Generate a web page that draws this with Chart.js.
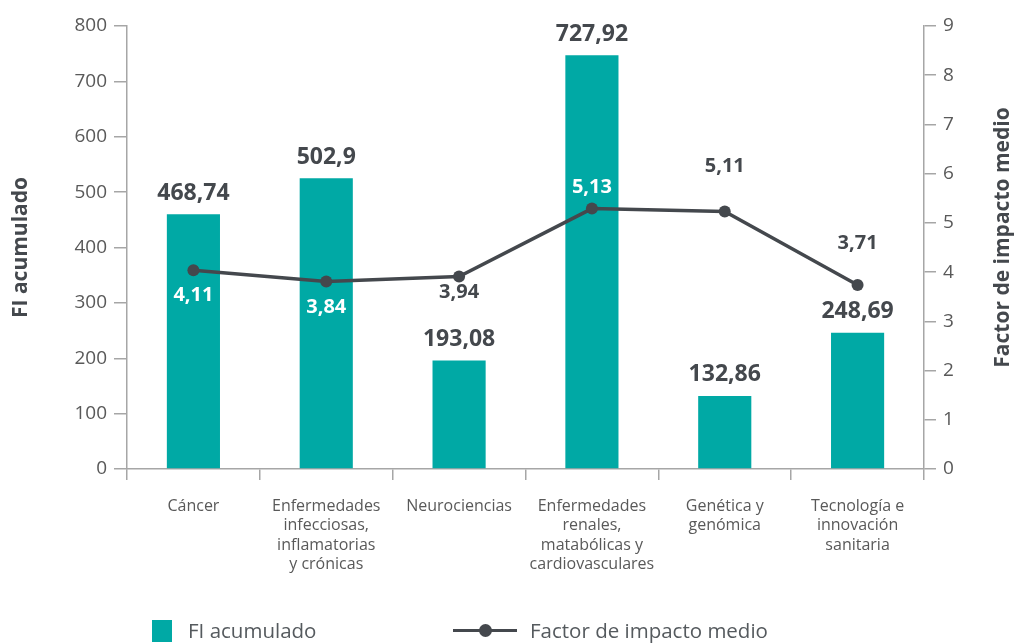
<!DOCTYPE html>
<html>
<head>
<meta charset="utf-8">
<script src="https://cdn.jsdelivr.net/npm/chart.js@4.4.1/dist/chart.umd.min.js"></script>
<style>
  html, body { margin: 0; padding: 0; background: #fff; }
  #wrap { position: relative; width: 1019px; height: 644px; font-family: "Open Sans", sans-serif; }
  .lg { position: absolute; color: #555a5e; font-size: 20.5px; line-height: 22px; white-space: nowrap; }
  .lg-box { position: absolute; left: 152px; top: 620px; width: 20px; height: 22px; background: #00a9a5; }
  .lg-line { position: absolute; left: 453px; top: 629px; width: 64px; height: 3px; background: #44484d; }
  .lg-dot { position: absolute; left: 479px; top: 624px; width: 13px; height: 13px; border-radius: 50%; background: #44484d; }
</style>
</head>
<body>
<div id="wrap">
  <canvas id="chart" width="1019" height="644"></canvas>
  <div class="lg-box"></div>
  <div class="lg" style="left:188px; top:619px;">FI acumulado</div>
  <div class="lg-line"></div>
  <div class="lg-dot"></div>
  <div class="lg" style="left:530px; top:619px;">Factor de impacto medio</div>
</div>
<script>
const categories = [
  "Cáncer",
  ["Enfermedades", "infecciosas,", "inflamatorias", "y crónicas"],
  "Neurociencias",
  ["Enfermedades", "renales,", "matabólicas y", "cardiovasculares"],
  ["Genética y", "genómica"],
  ["Tecnología e", "innovación", "sanitaria"],
];

// bar heights as drawn in the picture, and the numbers printed over them
const fiValues = [460, 525, 196, 747, 132, 246];
const fiLabels = ["468,74", "502,9", "193,08", "727,92", "132,86", "248,69"];

// mean impact factor line
const factorValues = [4.04, 3.81, 3.91, 5.29, 5.23, 3.74];
const factorLabels = ["4,11", "3,84", "3,94", "5,13", "5,11", "3,71"];

const leftTicks = [0, 100, 200, 300, 400, 500, 600, 700, 800];
const rightTicks = [0, 1, 2, 3, 4, 5, 6, 7, 8, 9];

// where each line label sits relative to its point (px)
const lineLabelShift = [25, 26, 16, -21, -45, -42];

const TEAL = "#00a9a5";
const DARK = "#44484d";
const AXIS = "#a6a6a6";
const TICK = "#595959";

const valueLabels = {
  id: "valueLabels",
  afterDatasetsDraw(chart) {
    const ctx = chart.ctx;
    const bars = chart.getDatasetMeta(0).data;
    const pts = chart.getDatasetMeta(1).data;
    ctx.save();
    ctx.textAlign = "center";
    ctx.textBaseline = "middle";
    ctx.font = "bold 23px 'Open Sans'";
    ctx.fillStyle = DARK;
    bars.forEach((b, i) => ctx.fillText(fiLabels[i], b.x, b.y - 21));
    ctx.font = "bold 20px 'Open Sans'";
    pts.forEach((p, i) => {
      const y = p.y + lineLabelShift[i];
      const b = bars[i];
      const inside = y > b.y && Math.abs(p.x - b.x) < b.width / 2;
      ctx.fillStyle = inside ? "#fff" : DARK;
      ctx.fillText(factorLabels[i], p.x, y);
    });
    ctx.restore();
  },
};

// right axis title reads bottom-to-top like the left one
const rightTitle = {
  id: "rightTitle",
  afterDraw(chart) {
    const s = chart.scales.y1;
    const ctx = chart.ctx;
    ctx.save();
    ctx.translate(1003, (s.top + s.bottom) / 2 - 10);
    ctx.rotate(-Math.PI / 2);
    ctx.textAlign = "center";
    ctx.textBaseline = "middle";
    ctx.font = "bold 21px 'Open Sans'";
    ctx.fillStyle = DARK;
    ctx.fillText("Factor de impacto medio", 0, 0);
    ctx.restore();
  },
};

const ctx = document.getElementById("chart");

new Chart(ctx, {
  data: {
    labels: categories,
    datasets: [
      {
        type: "bar",
        label: "FI acumulado",
        data: fiValues,
        backgroundColor: TEAL,
        barPercentage: 0.4,
        categoryPercentage: 1,
        yAxisID: "y",
        order: 1,
      },
      {
        type: "line",
        label: "Factor de impacto medio",
        data: factorValues,
        borderColor: DARK,
        backgroundColor: DARK,
        borderWidth: 3.5,
        pointRadius: 6,
        pointBackgroundColor: DARK,
        pointBorderWidth: 0,
        tension: 0,
        yAxisID: "y1",
        order: 0,
      },
    ],
  },
  options: {
    responsive: false,
    animation: false,
    layout: { padding: { top: 26, left: 0, right: 0, bottom: 0 } },
    plugins: {
      legend: { display: false },
      tooltip: { enabled: false },
    },
    scales: {
      x: {
        offset: true,
        grid: {
          offset: true,
          drawOnChartArea: false,
          drawTicks: true,
          tickLength: 11,
          color: AXIS,
          lineWidth: 1.5,
        },
        border: { color: AXIS, width: 1.5 },
        ticks: {
          color: TICK,
          padding: 17,
          maxRotation: 0,
          autoSkip: false,
          font: { family: "'Open Sans'", size: 16, lineHeight: 1.2 },
        },
        afterFit: (s) => { s.height = 175; },
      },
      y: {
        position: "left",
        min: 0,
        max: 800,
        afterBuildTicks: (s) => { s.ticks = leftTicks.map((v) => ({ value: v })); },
        grid: {
          drawOnChartArea: false,
          tickLength: 13,
          color: AXIS,
          lineWidth: 1.5,
        },
        border: { color: AXIS, width: 1.5 },
        ticks: {
          color: TICK,
          padding: 7,
          font: { family: "'Open Sans'", size: 19 },
        },
        title: {
          display: true,
          text: "FI acumulado",
          color: DARK,
          padding: { top: 8, bottom: 0 },
          font: { family: "'Open Sans'", size: 21, weight: "bold" },
        },
        afterFit: (s) => { s.width = 127; },
      },
      y1: {
        position: "right",
        min: 0,
        max: 9,
        afterBuildTicks: (s) => { s.ticks = rightTicks.map((v) => ({ value: v })); },
        grid: {
          drawOnChartArea: false,
          tickLength: 12,
          color: AXIS,
          lineWidth: 1.5,
        },
        border: { color: AXIS, width: 1.5 },
        ticks: {
          color: TICK,
          padding: 7,
          font: { family: "'Open Sans'", size: 19 },
        },
        afterFit: (s) => { s.width = 95; },
      },
    },
  },
  plugins: [valueLabels, rightTitle],
});
</script>
</body>
</html>
